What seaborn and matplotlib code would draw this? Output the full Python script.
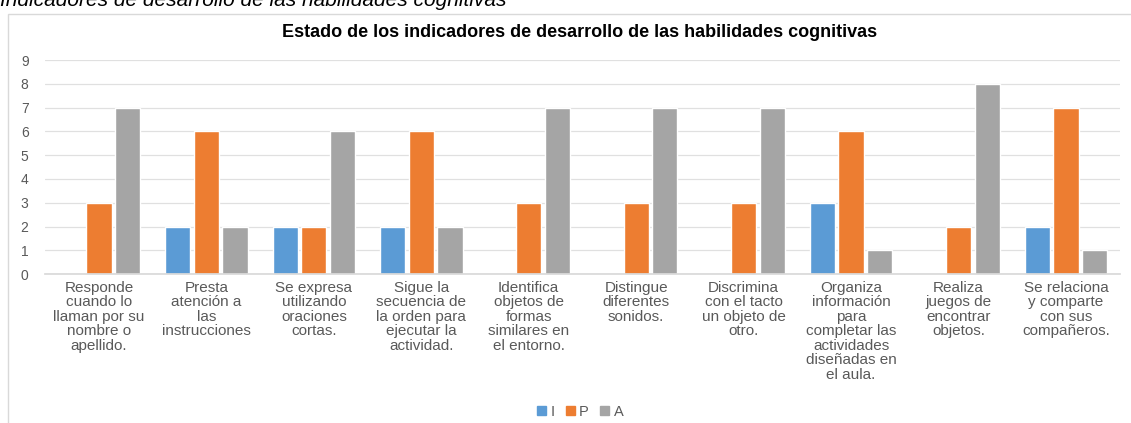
import pandas as pd
import matplotlib
matplotlib.use('Agg')
import matplotlib.pyplot as plt
import seaborn as sns
from matplotlib.patches import Rectangle

# Data
categories = [
    'Responde\ncuando lo\nllaman por su\nnombre o\napellido.',
    'Presta\natención a\nlas\ninstrucciones',
    'Se expresa\nutilizando\noraciones\ncortas.',
    'Sigue la\nsecuencia de\nla orden para\nejecutar la\nactividad.',
    'Identifica\nobjetos de\nformas\nsimilares en\nel entorno.',
    'Distingue\ndiferentes\nsonidos.',
    'Discrimina\ncon el tacto\nun objeto de\notro.',
    'Organiza\ninformación\npara\ncompletar las\nactividades\ndiseñadas en\nel aula.',
    'Realiza\njuegos de\nencontrar\nobjetos.',
    'Se relaciona\ny comparte\ncon sus\ncompañeros.',
]
values_i = [0, 2, 2, 2, 0, 0, 0, 3, 0, 2]
values_p = [3, 6, 2, 6, 3, 3, 3, 6, 2, 7]
values_a = [7, 2, 6, 2, 7, 7, 7, 1, 8, 1]
series = ['I', 'P', 'A']
colors = ['#5B9BD5', '#ED7D31', '#A5A5A5']

df = pd.DataFrame({
    'cat': categories * 3,
    'serie': ['I'] * 10 + ['P'] * 10 + ['A'] * 10,
    'valor': values_i + values_p + values_a,
})

sns.set_theme(style='white')
plt.rcParams['font.family'] = ['Liberation Sans', 'DejaVu Sans']

fig = plt.figure(figsize=(11.31, 4.23), dpi=100)
ax = fig.add_axes([0.040, 0.352, 0.950, 0.506])

# frame around the chart area
fig.patches.append(Rectangle((0.007, -0.01), 1.0, 0.978, transform=fig.transFigure,
                             fill=False, edgecolor='#D9D9D9', linewidth=1.0))

sns.barplot(data=df, x='cat', y='valor', hue='serie', hue_order=series,
            palette=colors, width=0.8, gap=0.12, ax=ax, saturation=1,
            legend=False)

ax.set_ylim(0, 9)
ax.set_yticks(range(0, 10))
ax.yaxis.grid(True, color='#E0E0E0', linewidth=0.9)
ax.set_axisbelow(True)
for s in ['top', 'right', 'left']:
    ax.spines[s].set_visible(False)
ax.spines['bottom'].set_color('#D9D9D9')
ax.set_xlabel('')
ax.set_ylabel('')
ax.tick_params(axis='both', length=0, colors='#595959')
ax.tick_params(axis='y', pad=12, labelsize=10)
ax.tick_params(axis='x', pad=5, labelsize=11)
ax.set_xticks(range(len(categories)))
ax.set_xticklabels(categories, linespacing=1.04, va='top', ha='center')

fig.text(0.512, 0.922, 'Estado de los indicadores de desarrollo de las habilidades cognitivas',
         ha='center', va='center', fontsize=13, fontweight='bold', color='#000000')

# caption above the chart, cut off by the image edge
fig.text(0.0, 1.0, 'Indicadores de desarrollo de las habilidades cognitivas',
         ha='left', va='center', fontsize=15, style='italic', color='#000000')

handles = [Rectangle((0, 0), 1, 1, color=c) for c in colors]
fig.legend(handles, series, loc='center', bbox_to_anchor=(0.513, 0.027), ncol=3,
           frameon=False, fontsize=10.5, handlelength=0.6, handleheight=0.5,
           handletextpad=0.3, columnspacing=0.8, labelcolor='#595959')

fig.savefig('out.png', dpi=100)
